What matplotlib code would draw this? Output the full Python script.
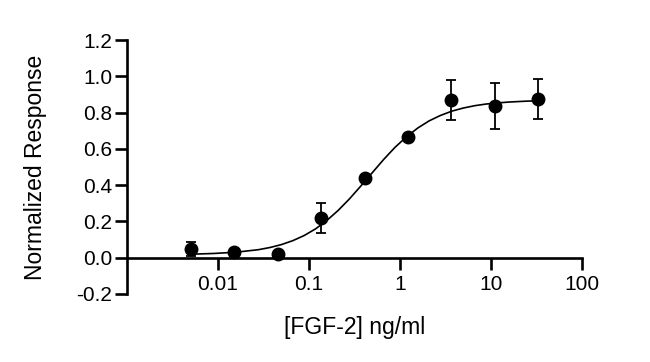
import matplotlib
matplotlib.use("Agg")
import matplotlib.pyplot as plt
from matplotlib.ticker import FixedLocator, NullLocator

plt.rcParams['font.family'] = ['Liberation Sans', 'DejaVu Sans']

# measured points (ng/ml, normalized response, SD)
conc = [0.0051, 0.0152, 0.0457, 0.137, 0.41, 1.23, 3.7, 11.1, 33.3]
resp = [0.048, 0.031, 0.020, 0.219, 0.439, 0.665, 0.867, 0.834, 0.874]
err = [0.040, 0.010, 0.010, 0.085, 0.010, 0.010, 0.110, 0.127, 0.110]

# fitted curve
curve_x = [0.005, 0.0089, 0.0158, 0.028, 0.0375, 0.05, 0.067, 0.089, 0.119,
           0.158, 0.21, 0.28, 0.375, 0.5, 0.67, 0.89, 1.19, 1.58, 2.1, 2.8,
           3.75, 5.0, 6.7, 8.9, 11.9, 15.8, 25.0, 33.3]
curve_y = [0.019, 0.023, 0.030, 0.044, 0.056, 0.072, 0.094, 0.122, 0.159,
           0.205, 0.260, 0.324, 0.396, 0.469, 0.543, 0.609, 0.667, 0.715,
           0.754, 0.784, 0.808, 0.825, 0.838, 0.847, 0.853, 0.858, 0.863,
           0.865]

x_ticks = [0.01, 0.1, 1, 10, 100]
x_tick_labels = ["0.01", "0.1", "1", "10", "100"]
y_ticks = [-0.2, 0.0, 0.2, 0.4, 0.6, 0.8, 1.0, 1.2]


def main():
    fig = plt.figure(figsize=(6.5, 3.62), dpi=100)
    ax = fig.add_axes([0.195, 0.188, 0.70, 0.7015])

    ax.plot(curve_x, curve_y, color="black", lw=1.2, zorder=2)
    ax.errorbar(conc, resp, yerr=err, fmt="o", color="black", ms=9,
                elinewidth=1.3, capsize=3.8, capthick=1.3, zorder=3)

    ax.set_xscale("log")
    ax.set_xlim(0.001, 100)
    ax.set_ylim(-0.2, 1.2)

    ax.xaxis.set_major_locator(FixedLocator(x_ticks))
    ax.xaxis.set_minor_locator(NullLocator())
    ax.set_xticklabels(x_tick_labels)
    ax.set_yticks(y_ticks)
    ax.set_yticklabels([f"{v:.1f}" for v in y_ticks])

    ax.spines["top"].set_visible(False)
    ax.spines["right"].set_visible(False)
    ax.spines["bottom"].set_position(("data", 0))
    for side in ("left", "bottom"):
        ax.spines[side].set_linewidth(1.9)
    ax.tick_params(axis="both", direction="out", length=8.6, width=1.9,
                   labelsize=15)
    ax.tick_params(axis="x", pad=4)
    ax.tick_params(axis="y", pad=2)

    ax.set_xlabel("[FGF-2] ng/ml", fontsize=16.5)
    ax.set_ylabel("Normalized Response", fontsize=16.5)
    ax.xaxis.set_label_coords(0.5, -0.085)
    ax.yaxis.set_label_coords(-0.175, 0.5)

    fig.savefig("out.png", dpi=100)


if __name__ == "__main__":
    main()
